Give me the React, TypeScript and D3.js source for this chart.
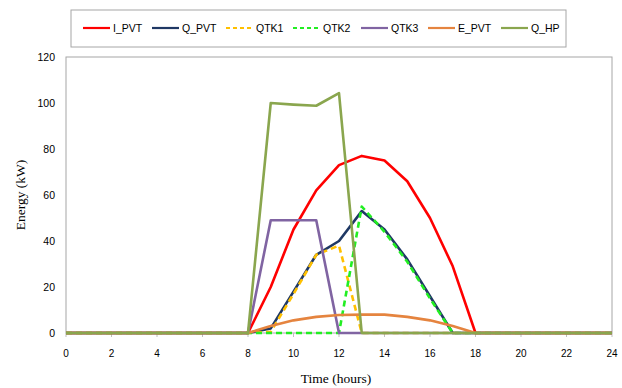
import React from "react";
import * as d3 from "d3";

const hours = d3.range(0, 25);
const I_PVT = [0,0,0,0,0,0,0,0,0,20,45,62,73,77,75,66,50,29,0,0,0,0,0,0,0];
const Q_PVT = [0,0,0,0,0,0,0,0,0,2,18,34,40,53,45,32,16,0,0,0,0,0,0,0,0];
const QTK1 = [0,0,0,0,0,0,0,0,0,0.5,17,34,38,0,0,0,0,0,0,0,0,0,0,0,0];
const QTK2 = [0,0,0,0,0,0,0,0,0,0,0,0,0,55,44,31,15,0,0,0,0,0,0,0,0];
const QTK3 = [0,0,0,0,0,0,0,0,0,49,49,49,0,0,0,0,0,0,0,0,0,0,0,0,0];
const E_PVT = [0,0,0,0,0,0,0,0,0,3,5.5,7,7.8,8,8,7,5.5,3,0,0,0,0,0,0,0];
const Q_HP = [0,0,0,0,0,0,0,0,0,100,99.3,98.8,104.3,0,0,0,0,0,0,0,0,0,0,0,0];

const seriesNames = ["I_PVT", "Q_PVT", "QTK1", "QTK2", "QTK3", "E_PVT", "Q_HP"];
const seriesData = [I_PVT, Q_PVT, QTK1, QTK2, QTK3, E_PVT, Q_HP];
const seriesColors = ["#FF0000", "#1F3864", "#FFC000", "#22EE22", "#8064A2", "#E5843F", "#8AA64E"];
const seriesDashed = [false, false, true, true, false, false, false];
const xTicks = d3.range(0, 25, 2);
const yTicks = [0, 20, 40, 60, 80, 100, 120];

export default function App() {
  const W = 622, H = 388;
  const L = 66, R = 612, T = 57, B = 333;
  const x = d3.scaleLinear().domain([0, 24]).range([L, R]);
  const y = d3.scaleLinear().domain([0, 120]).range([B, T]);
  const line = d3.line<number>().x((_, i) => x(hours[i])).y((d) => y(d));
  const legendX = [83, 152, 226, 293, 361, 428, 501];
  const tickFont = "'Liberation Sans', Arial, sans-serif";
  return (
    <svg width={W} height={H} style={{ position: "absolute", left: 0, top: 0, background: "#fff" }}>
      <rect x={0} y={0} width={W} height={H} fill="#fff" />
      <rect x={L} y={T} width={R - L} height={B - T} fill="none" stroke="#A6A6A6" strokeWidth={1} />
      {yTicks.map((t) => (
        <text key={t} x={55} y={y(t) + 4} textAnchor="end" fontSize={10.5} fontFamily={tickFont} fill="#000">{t}</text>
      ))}
      {xTicks.map((t) => (
        <g key={t}>
          <line x1={x(t)} x2={x(t)} y1={B} y2={B + 4} stroke="#BFBFBF" />
          <text x={x(t)} y={357} textAnchor="middle" fontSize={10} fontFamily={tickFont} fill="#000">{t}</text>
        </g>
      ))}
      <text x={336} y={383} textAnchor="middle" fontSize={13.5} fontFamily="'Liberation Serif', serif" fill="#000">Time (hours)</text>
      <text transform={`translate(25,${(T + B) / 2}) rotate(-90)`} textAnchor="middle" fontSize={13.5} fontFamily="'Liberation Serif', serif" fill="#000">Energy (kW)</text>
      {seriesData.map((d, i) => (
        <path key={seriesNames[i]} d={line(d) || ""} fill="none" stroke={seriesColors[i]} strokeWidth={2.6}
          strokeDasharray={seriesDashed[i] ? "6,4" : undefined} strokeLinejoin="round" />
      ))}
      <rect x={71} y={10} width={495} height={37} fill="#fff" stroke="#A6A6A6" strokeWidth={1} />
      {seriesNames.map((n, i) => (
        <g key={n}>
          <line x1={legendX[i]} x2={legendX[i] + 27} y1={28} y2={28} stroke={seriesColors[i]} strokeWidth={2.2}
            strokeDasharray={seriesDashed[i] ? "4,3" : undefined} />
          <text x={legendX[i] + 30} y={32} fontSize={10.5} fontFamily={tickFont} fill="#000">{n}</text>
        </g>
      ))}
    </svg>
  );
}
